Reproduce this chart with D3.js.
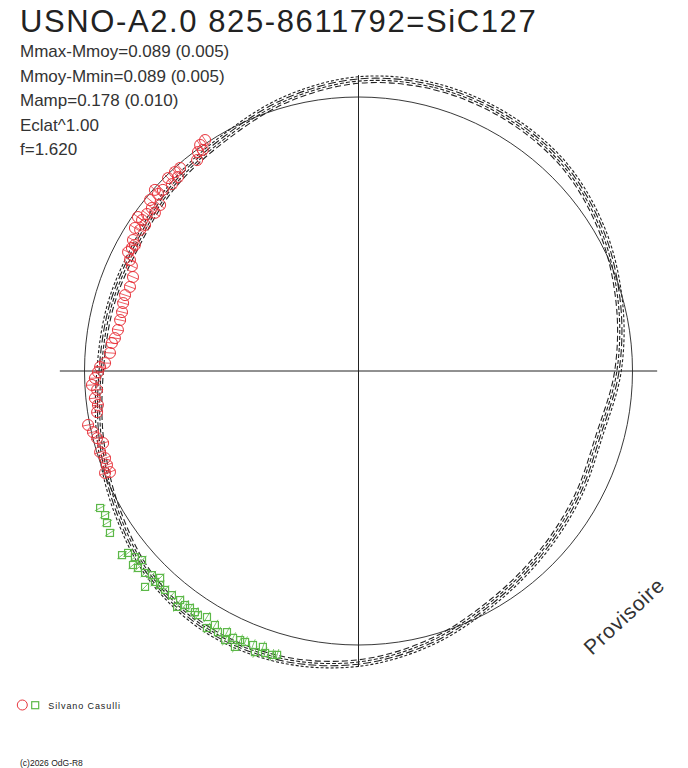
<!DOCTYPE html>
<meta charset="utf-8">
<script src="https://d3js.org/d3.v7.min.js"></script>
<style>
  body { margin: 0; background: #fff; }
  text { font-family: "Liberation Sans", Arial, sans-serif; fill: #222; }
</style>
<div id="chart"></div>
<script>

// header text
const title = "USNO-A2.0 825-8611792=SiC127";
const stats = ["Mmax-Mmoy=0.089 (0.005)", "Mmoy-Mmin=0.089 (0.005)", "Mamp=0.178 (0.010)", "Eclat^1.00", "f=1.620"];

// fitted light curve, radius (circle = 1) every 15 degrees of phase, clockwise from top
const curveAngles = [0, 15, 30, 45, 60, 75, 90, 105, 120, 135, 150, 165,
  180, 195, 210, 225, 240, 255, 270, 285, 300, 315, 330, 345];
const curveRadii = [1.062, 1.075, 1.074, 1.062, 1.027, 0.985, 0.947, 0.910, 0.922, 0.943, 0.975, 1.024,
  1.066, 1.090, 1.094, 1.068, 1.018, 0.975, 0.943, 0.936, 0.933, 0.958, 0.982, 1.026];
// the several fits drawn on top of each other
const curveSpread = [-0.012, -0.004, 0.004, 0.012];
const curveDash = ["6,3", "4,2", "8,3", "3,2"];

// first session (red circles)
const redX = [-0.560, -0.578, -0.568, -0.586, -0.589, -0.651, -0.670, -0.659, -0.695, -0.681,
  -0.714, -0.732, -0.743, -0.761, -0.724, -0.754, -0.772, -0.743, -0.790, -0.805,
  -0.797, -0.816, -0.779, -0.823, -0.827, -0.841, -0.816, -0.834, -0.827, -0.823,
  -0.834, -0.852, -0.859, -0.863, -0.870, -0.878, -0.889, -0.900, -0.907, -0.925,
  -0.943, -0.951, -0.962, -0.973, -0.954, -0.962, -0.951, -0.954, -0.987, -0.969,
  -0.954, -0.932, -0.943, -0.925, -0.918, -0.925, -0.907];
const redY = [0.843, 0.825, 0.807, 0.799, 0.770, 0.741, 0.726, 0.708, 0.704, 0.682,
  0.661, 0.646, 0.661, 0.624, 0.606, 0.595, 0.573, 0.577, 0.551, 0.562,
  0.515, 0.522, 0.533, 0.478, 0.449, 0.434, 0.460, 0.405, 0.383, 0.343,
  0.307, 0.277, 0.248, 0.215, 0.186, 0.150, 0.120, 0.102, 0.066, 0.029,
  0.015, -0.004, -0.026, -0.051, -0.069, -0.099, -0.124, -0.150, -0.197, -0.223,
  -0.245, -0.263, -0.296, -0.318, -0.343, -0.372, -0.369];

// second session (green squares)
const greenX = [-0.943, -0.925, -0.918, -0.907, -0.863, -0.841, -0.816, -0.790, -0.805, -0.779,
  -0.754, -0.779, -0.743, -0.724, -0.706, -0.681, -0.651, -0.662, -0.633, -0.615,
  -0.586, -0.553, -0.553, -0.524, -0.513, -0.480, -0.458, -0.451, -0.414, -0.385,
  -0.349, -0.378, -0.341, -0.316, -0.297, -0.597, -0.724, -0.823, -0.432, -0.487];
const greenY = [-0.500, -0.526, -0.555, -0.591, -0.672, -0.664, -0.679, -0.690, -0.719, -0.737,
  -0.745, -0.788, -0.770, -0.781, -0.799, -0.818, -0.836, -0.861, -0.854, -0.865,
  -0.891, -0.898, -0.938, -0.927, -0.953, -0.953, -0.974, -1.007, -0.989, -1.000,
  -1.007, -1.026, -1.029, -1.036, -1.036, -0.880, -0.755, -0.708, -0.982, -0.982];

const observer = "Silvano Casulli";
const credit = "(c)2026 OdG-R8";

const width = 688, height = 768;
const cx = 358.5, cy = 371, R = 274;
const red = "#e8353d", green = "#5cb848";

const svg = d3.select("#chart").append("svg")
  .attr("width", width)
  .attr("height", height);

const x = d3.scaleLinear().domain([-1, 1]).range([cx - R, cx + R]);
const y = d3.scaleLinear().domain([-1, 1]).range([cy + R, cy - R]);
const r = d3.scaleLinear().domain([0, 1]).range([0, R]);

// crosshair
svg.append("line")
  .attr("x1", x(-1.09)).attr("x2", x(1.09))
  .attr("y1", y(0)).attr("y2", y(0))
  .attr("stroke", "#222").attr("stroke-width", 1);
svg.append("line")
  .attr("x1", x(0)).attr("x2", x(0))
  .attr("y1", y(1.08)).attr("y2", y(-1.08))
  .attr("stroke", "#222").attr("stroke-width", 1);

// reference circle
svg.append("circle")
  .attr("cx", x(0)).attr("cy", y(0)).attr("r", r(1))
  .attr("fill", "none").attr("stroke", "#222").attr("stroke-width", 0.9);

// fitted curves
const curvePts = curveAngles.map((a, i) => [a, curveRadii[i]]);
const gCurve = svg.append("g").attr("transform", "translate(" + x(0) + "," + y(0) + ")");
curveSpread.forEach((off, k) => {
  const line = d3.lineRadial()
    .angle(d => d[0] * Math.PI / 180)
    .radius(d => r(d[1] + off))
    .curve(d3.curveCardinalClosed);
  gCurve.append("path")
    .attr("d", line(curvePts))
    .attr("fill", "none")
    .attr("stroke", "#222")
    .attr("stroke-width", 1.1)
    .attr("stroke-dasharray", curveDash[k]);
});

// radial error bar for a point
function errBar(g, px, py, color) {
  const len = Math.sqrt(px * px + py * py);
  const ux = px / len, uy = py / len, e = 0.022;
  g.append("line")
    .attr("x1", x(px - ux * e)).attr("y1", y(py - uy * e))
    .attr("x2", x(px + ux * e)).attr("y2", y(py + uy * e))
    .attr("stroke", color).attr("stroke-width", 0.8);
}

const gRed = svg.append("g");
redX.forEach((px, i) => {
  errBar(gRed, px, redY[i], red);
  gRed.append("circle")
    .attr("cx", x(px)).attr("cy", y(redY[i])).attr("r", 5.5)
    .attr("fill", "none").attr("stroke", red).attr("stroke-width", 1);
});

const gGreen = svg.append("g");
greenX.forEach((px, i) => {
  errBar(gGreen, px, greenY[i], green);
  gGreen.append("rect")
    .attr("x", x(px) - 3.5).attr("y", y(greenY[i]) - 3.5)
    .attr("width", 7).attr("height", 7)
    .attr("fill", "none").attr("stroke", green).attr("stroke-width", 1.2);
});

// title and stats
svg.append("text")
  .attr("x", 20).attr("y", 32)
  .style("font-size", "31px")
  .style("letter-spacing", "1.6px")
  .text(title);

svg.selectAll(".stat")
  .data(stats)
  .enter().append("text")
  .attr("class", "stat")
  .attr("x", 20)
  .attr("y", (d, i) => 57 + i * 24.5)
  .style("font-size", "17px")
  .style("fill", "#333")
  .text(d => d);

// watermark
svg.append("text")
  .attr("transform", "translate(592,656) rotate(-43)")
  .style("font-size", "21px")
  .style("letter-spacing", "0.8px")
  .style("fill", "#333")
  .text("Provisoire");

// legend
svg.append("circle")
  .attr("cx", 22.3).attr("cy", 705).attr("r", 5)
  .attr("fill", "none").attr("stroke", red).attr("stroke-width", 1);
svg.append("rect")
  .attr("x", 31.7).attr("y", 701.7).attr("width", 7).attr("height", 7)
  .attr("fill", "none").attr("stroke", green).attr("stroke-width", 1.2);
svg.append("text")
  .attr("x", 48.3).attr("y", 709)
  .style("font-size", "9px")
  .style("letter-spacing", "0.9px")
  .text(observer);

svg.append("text")
  .attr("x", 20).attr("y", 766)
  .style("font-size", "8.5px")
  .text(credit);

</script>
